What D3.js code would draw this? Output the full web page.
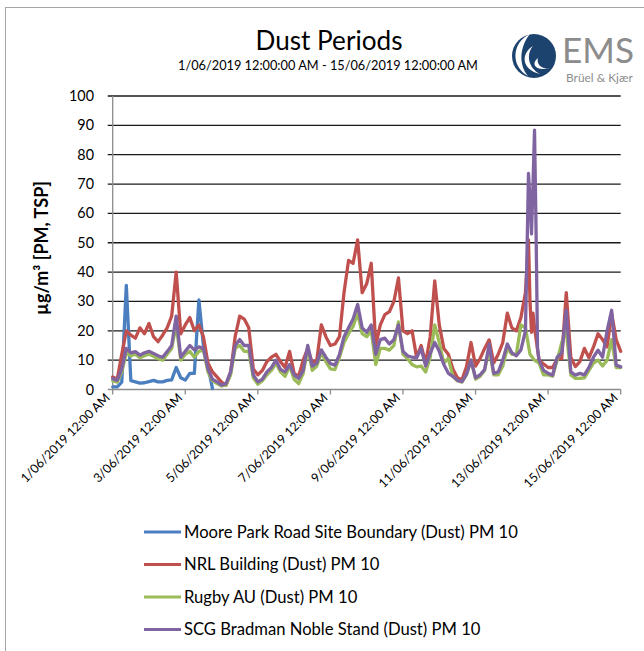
<!DOCTYPE html>
<html><head><meta charset="utf-8">
<script src="https://cdn.jsdelivr.net/npm/d3@7"></script>
<style>
body{margin:0;background:#fff;}
svg{display:block;}
text{font-family:Lato,"Open Sans",sans-serif;}
</style>
</head><body>
<svg id="chart" width="644" height="651"></svg>
<script>
// ---------- DATA ----------
const titleText = "Dust Periods";
const subtitleText = "1/06/2019 12:00:00 AM - 15/06/2019 12:00:00 AM";
const yTitle = "\u00b5g/m\u00b3 [PM, TSP]";
const seriesNames = [
  "Moore Park Road Site Boundary (Dust) PM 10",
  "NRL Building (Dust) PM 10",
  "Rugby AU (Dust) PM 10",
  "SCG Bradman Noble Stand (Dust) PM 10"
];
const seriesColors = ["#4a7ebf", "#c0504d", "#9bbb59", "#8064a2"];
// hours since 1/06/2019 00:00, 3-hourly readings
const hours = d3.range(0, 337, 3);
const moore = [0.9,0.9,2.5,35.5,3,2.6,2.2,2.3,2.7,3.1,2.6,2.6,3.1,3.3,7.5,4,3.2,5.5,5.5,30.5,15,8,0.3];
const nrl = [4.3,3.5,12,20,18.5,17.5,21,19,22.5,18,16.3,18.5,21,25,40,19,22,24.5,20,22,18,9,6,4.3,2.5,1.5,6,18,
  25,24,21,7,5,6.5,9.5,11,12,9.5,7.5,13,5.5,4.5,10,14,9,10,22,18,15,15.5,18,33,44,43,51,33,36,
  43,15,22,25.5,26.5,30,38,20,19,20,11,15,9,18,37,22,14,12,7,4,3.3,7.7,16,8,10.5,14,16.9,9,
  12,16,26,21,20,24.5,33,30,21,10,8.7,7.5,7.5,10.5,10.5,33,11,7.8,9.5,14,10.8,14.5,19,17,14.5,26,17,13];
const rugby = [3,2.5,6,12.5,11.5,12,10.8,11.5,12,11.3,10.5,10,12,14,22,10,12,13,11,13,13.5,6,3,2,1.2,1.5,5,14,
  15,13,13,4,1.8,3,5,6.5,9,6,4.5,8,3.5,2,5.5,14,6.5,8,12.5,9.5,7,6.8,11,16,19,21.5,26,19,18,
  20,8.5,14,14,13.4,15,23,12,10.5,8.5,7.7,8,6,11,22,16,9,10.6,4.5,3,2.5,5,10,3.5,4.5,6.5,14,5,
  5,8,14,12,12,22,21,12,10,9,5,5,4.5,10,16,20,5,3.8,3.8,4,6.5,9,10,8,10,17,7.5,7.5];
const scg = [3.7,3.1,7,14,12.5,12.9,11.7,12.5,13,12.3,11.5,11,12.9,15,25,11,13,15,13.5,14.5,14,7,3.5,2.6,1.5,2,6,15,
  17,15,15,5,2.6,3.5,6,7.5,10,6.8,6,8.5,5,3.8,6.5,15,8,9,13.5,11,8.8,8.3,12,18,21,24,29,21,19.5,
  22,12,17,17.5,15.5,17,22,13,11.5,11,10.8,14,8,12.3,16,13,8.5,5.5,4.5,3.1,2.7,5.2,10,4,5,6.8,15.5,5.5,
  6,10,15.5,12.5,11.5,13.5,20,65,88.4,10,6.5,5.5,4.9,11,12.5,27,6,4.9,5.5,5,7.5,11,13.4,11,20,27,8.3,7.7];
// extra hourly readings around the 12-13/06 peak
const nrlExtra = [[274,42],[275,51],[277,19.5],[278,26]];
const scgExtra = [[274,46],[275,73.6],[277,53],[278,70],[280,55],[281,14]];
const yTicks = d3.range(0, 101, 10);
const xTickHours = d3.range(0, 337, 48);
const xTickLabels = ["1/06/2019 12:00 AM","3/06/2019 12:00 AM","5/06/2019 12:00 AM","7/06/2019 12:00 AM",
  "9/06/2019 12:00 AM","11/06/2019 12:00 AM","13/06/2019 12:00 AM","15/06/2019 12:00 AM"];

// ---------- CHART ----------
const svg = d3.select("#chart");
const x = d3.scaleLinear().domain([0, 336]).range([112.7, 620.7]);
const y = d3.scaleLinear().domain([0, 100]).range([389.5, 96]);

function fit(t, w) {
  const l = t.node().getComputedTextLength();
  const fs = parseFloat(t.attr("font-size"));
  t.attr("font-size", fs * w / l);
  return fs * w / l;
}

// outer frame (left & top visible)
svg.append("rect").attr("x", 5.5).attr("y", 7.5).attr("width", 800).attr("height", 800)
  .attr("fill", "none").attr("stroke", "#a6a6a6").attr("stroke-width", 1);

// title
const tt = svg.append("text").attr("x", 329).attr("y", 50).attr("text-anchor", "middle")
  .attr("font-size", 26).attr("fill", "#000").text(titleText);
fit(tt, 147);
const st = svg.append("text").attr("x", 328).attr("y", 69.5).attr("text-anchor", "middle")
  .attr("font-size", 12).attr("fill", "#000").text(subtitleText);
fit(st, 300);

// logo
const logo = svg.append("g").attr("transform", "translate(534,56)");
logo.append("circle").attr("r", 22).attr("fill", "#1c426e");
logo.append("path").attr("d", "M-4,-22 C-22,-14 -24,10 -6,20 C-16,8 -14,-10 -4,-22 Z").attr("fill", "#fff");
logo.append("path").attr("d", "M-1,-10 C-14,-2 -12,14 6,18 C-6,12 -8,-2 -1,-10 Z").attr("fill", "#fff");
logo.append("path").attr("d", "M4,2 C-4,8 2,16 16,12 C8,14 2,8 4,2 Z").attr("fill", "#fff");
const ems = svg.append("text").attr("x", 562).attr("y", 63).attr("font-size", 30)
  .attr("fill", "#8c8c8c").text("EMS");
fit(ems, 72);
const bk = svg.append("text").attr("x", 566).attr("y", 82).attr("font-size", 10)
  .attr("fill", "#8c8c8c").text("Br\u00fcel & Kj\u00e6r");
fit(bk, 67);

// gridlines
svg.append("g").selectAll("line").data(yTicks.filter(d => d > 0)).join("line")
  .attr("x1", x.range()[0] - 5).attr("x2", x.range()[1])
  .attr("y1", d => y(d)).attr("y2", d => y(d))
  .attr("stroke", "#1a1a1a").attr("stroke-width", 1.3);

// axes
const axisColor = "#8c8c8c";
svg.append("line").attr("x1", x.range()[0]).attr("x2", x.range()[0])
  .attr("y1", y(100)).attr("y2", y(0)).attr("stroke", axisColor).attr("stroke-width", 1.3);
svg.append("line").attr("x1", x.range()[0] - 5).attr("x2", x.range()[1])
  .attr("y1", y(0)).attr("y2", y(0)).attr("stroke", axisColor).attr("stroke-width", 1.3);
svg.append("g").selectAll("line").data(xTickHours).join("line")
  .attr("x1", d => x(d)).attr("x2", d => x(d)).attr("y1", y(0)).attr("y2", y(0) + 5)
  .attr("stroke", axisColor).attr("stroke-width", 1.3);

// y tick labels
const yl = svg.append("g").selectAll("text").data(yTicks).join("text")
  .attr("x", 94).attr("y", d => y(d)).attr("dy", "0.35em").attr("text-anchor", "end")
  .attr("font-size", 17).attr("fill", "#000").text(d => d);
const yfs = 17 * 25 / yl.filter(d => d === 100).node().getComputedTextLength();
yl.attr("font-size", yfs);

// y title
const ytt = svg.append("text").attr("transform", "translate(48,248) rotate(-90)")
  .attr("text-anchor", "middle").attr("font-size", 15).attr("font-weight", "bold")
  .attr("fill", "#000").text(yTitle);
fit(ytt, 134);

// x tick labels
const xl = svg.append("g").selectAll("text").data(xTickHours).join("text")
  .attr("transform", d => `translate(${x(d) - 2},${y(0) + 9}) rotate(-45)`)
  .attr("text-anchor", "end").attr("font-size", 13).attr("fill", "#000")
  .text((d, i) => xTickLabels[i]);
const xfs = 13 * 120 / xl.filter((d, i) => i === 0).node().getComputedTextLength();
xl.attr("font-size", xfs);

// series
function pts(vals, extra) {
  const p = hours.map((h, i) => [h, i < vals.length ? vals[i] : null]);
  (extra || []).forEach(e => p.push(e));
  return p.sort((a, b) => a[0] - b[0]);
}
const seriesData = [pts(moore), pts(nrl, nrlExtra), pts(rugby), pts(scg, scgExtra)];
const line = d3.line().defined(d => d[1] != null).x(d => x(d[0])).y(d => y(d[1]));
svg.append("g").selectAll("path").data(seriesData).join("path")
  .attr("d", line).attr("fill", "none")
  .attr("stroke", (d, i) => seriesColors[i]).attr("stroke-width", 3.3)
  .attr("stroke-linejoin", "round").attr("stroke-linecap", "round");

// legend
const legendY = [532, 564.5, 597, 629.5];
const lg = svg.append("g").selectAll("g").data(seriesNames).join("g")
  .attr("transform", (d, i) => `translate(0,${legendY[i]})`);
lg.append("line").attr("x1", 144).attr("x2", 181).attr("y1", 0).attr("y2", 0)
  .attr("stroke", (d, i) => seriesColors[i]).attr("stroke-width", 3);
const lt = lg.append("text").attr("x", 184).attr("y", 0).attr("dy", "0.35em")
  .attr("font-size", 17).attr("fill", "#000").text(d => d);
const lfs = 17 * 334 / lt.filter((d, i) => i === 0).node().getComputedTextLength();
lt.attr("font-size", lfs);
</script>
</body></html>
